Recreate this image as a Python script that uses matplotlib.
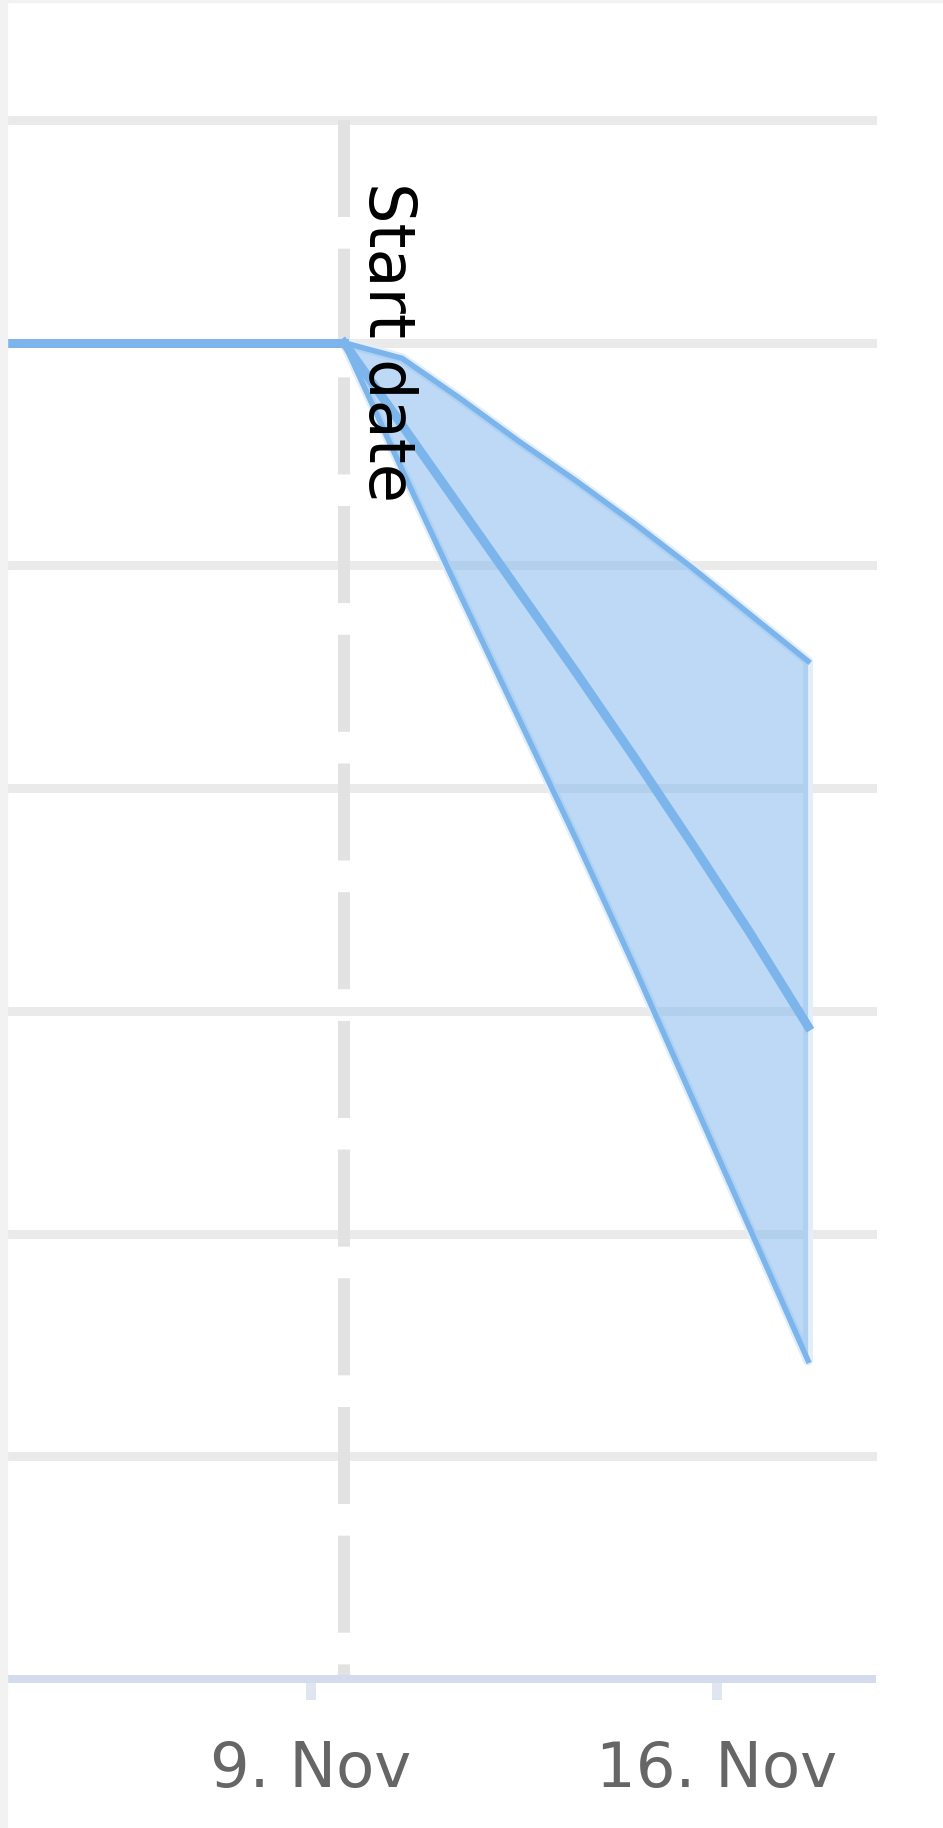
import matplotlib
matplotlib.use("agg")
import matplotlib.pyplot as plt
import matplotlib.dates as mdates
from matplotlib.patches import Rectangle
from datetime import datetime, timedelta

# history: flat at 6 up to the start date
start = datetime(2020, 11, 9, 13, 40)
hist_dates = [start - timedelta(days=d) for d in range(7, -1, -1)]
hist_values = [6.0, 6.0, 6.0, 6.0, 6.0, 6.0, 6.0, 6.0]

# forecast fan, one point per day from the start date
fc_dates = [start + timedelta(days=d) for d in range(9)]
fc_high = [6.0, 5.93, 5.75, 5.56, 5.38, 5.19, 4.99, 4.78, 4.57]
fc_mid = [6.0, 5.63, 5.26, 4.89, 4.52, 4.14, 3.75, 3.35, 2.93]
fc_low = [6.0, 5.43, 4.87, 4.32, 3.77, 3.20, 2.61, 2.02, 1.43]

start_label = "Start date"
x_min = datetime(2020, 11, 3, 18, 12)
x_max = datetime(2020, 11, 18, 16, 8)

blue = "#7cb5ec"
px = 0.72  # points per pixel at dpi 100

fig = plt.figure(figsize=(9.43, 18.28), dpi=100)
fig.patches.append(Rectangle((0, 0), 7 / 943, 1, transform=fig.transFigure,
                             color="#f2f2f2", zorder=0))
fig.patches.append(Rectangle((0, 1 - 2 / 1828), 1, 2 / 1828, transform=fig.transFigure,
                             color="#f2f2f2", zorder=0))

ax = fig.add_axes([7 / 943, 149 / 1828, 865 / 943, 1559 / 1828])

# start date marker
dash_lw = 12 * px
ax.plot([start, start], [7, 0], color="#e2e2e2", lw=dash_lw, zorder=1.5,
        linestyle=(0, (97 * px / dash_lw, 31.7 * px / dash_lw)))

# soft edge around the range
ax.fill_between(fc_dates, fc_low, fc_high, facecolor="none",
                edgecolor="#e2eefb", linewidth=10 * px, zorder=2)
ax.fill_between(fc_dates, fc_low, fc_high, facecolor=blue, alpha=0.5,
                linewidth=0, zorder=2.1)
ax.plot(fc_dates, fc_high, color=blue, lw=5.5 * px, zorder=3)
ax.plot(fc_dates, fc_low, color=blue, lw=5.5 * px, zorder=3)
ax.plot(fc_dates, fc_mid, color=blue, lw=9 * px, zorder=3.2)
ax.plot(hist_dates, hist_values, color=blue, lw=9 * px, zorder=3.2)

ax.annotate(start_label, xy=(start, 1), xycoords=("data", "axes fraction"),
            xytext=(8.6, -45), textcoords="offset points", rotation=-90,
            ha="left", va="top", fontsize=46, color="black",
            family="DejaVu Sans", zorder=5)

ax.set_xlim(x_min, x_max)
ax.set_ylim(0, 7)
ax.set_yticks([1, 2, 3, 4, 5, 6, 7])
ax.grid(axis="y", color="#eaeaea", lw=9 * px)
ax.set_axisbelow(True)
for gl in ax.get_ygridlines():
    gl.set_clip_on(False)
ax.tick_params(axis="y", left=False, labelleft=False)

ax.xaxis.set_major_locator(mdates.WeekdayLocator(byweekday=mdates.MO))
ax.xaxis.set_major_formatter(plt.FuncFormatter(
    lambda v, pos: "{}. {}".format(mdates.num2date(v).day, mdates.num2date(v).strftime("%b"))))
ax.tick_params(axis="x", length=21 * px, width=10 * px, color="#dfe5f1",
               pad=29, labelsize=45, labelcolor="#666666")

for side in ["left", "right", "top"]:
    ax.spines[side].set_visible(False)
ax.spines["bottom"].set_color("#d3dbec")
ax.spines["bottom"].set_linewidth(8 * px)

plt.savefig("out.png", dpi=100)
